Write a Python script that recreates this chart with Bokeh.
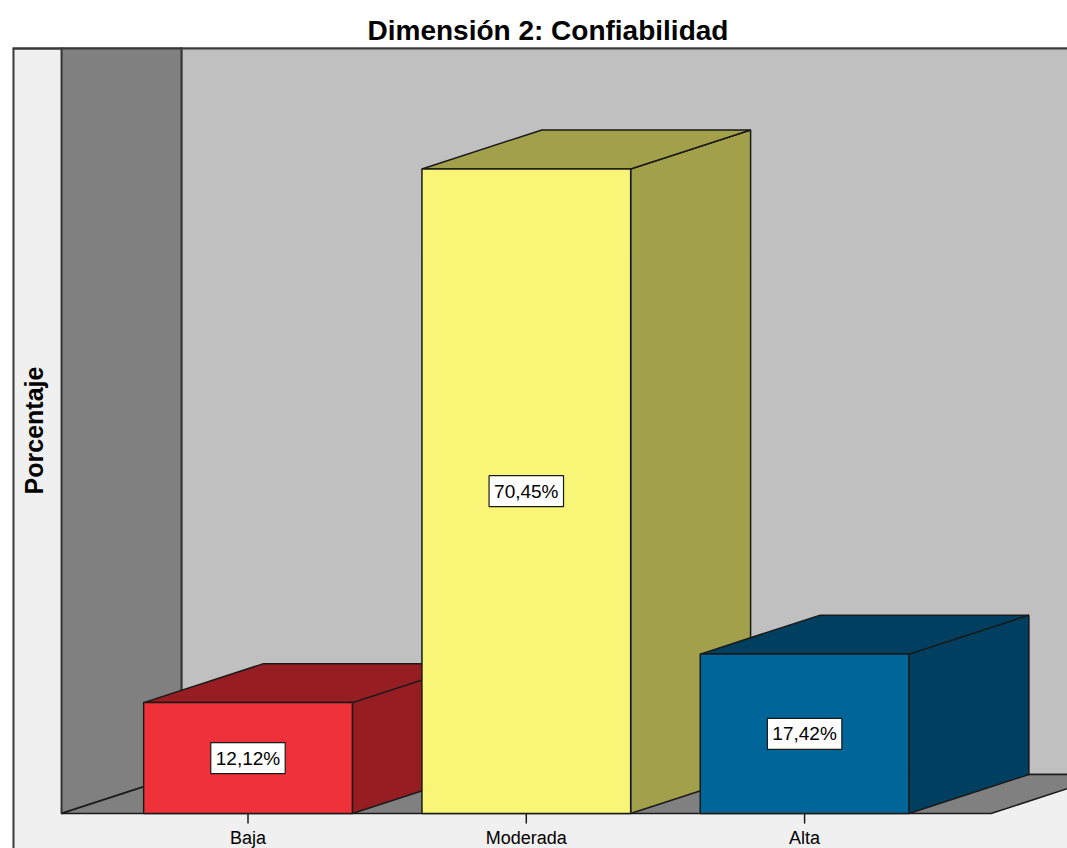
from math import pi

from bokeh.core.properties import value
from bokeh.embed import file_html
from bokeh.models import ColumnDataSource, Range1d
from bokeh.plotting import figure
from bokeh.resources import INLINE

# Data
categories = ["Baja", "Moderada", "Alta"]
percentages = [12.12, 70.45, 17.42]
front_colors = ["#EF3139", "#F9F576", "#00669A"]
shade_colors = ["#961E22", "#A3A04B", "#003F5F"]

title_text = "Dimensión 2: Confiabilidad"
y_label = "Porcentaje"

# 3-D look: depth offset (x in category units, y in percent) and bar half width
DX = 0.431
DY = 4.26
HALF = 0.375
X_LEFT = 0.33          # left end of the floor / left wall
X_RIGHT = 3.67         # right end of the floor front edge
WALL_TOP = 200.0       # walls run past the top of the frame

X_START, X_END = 0.1538, 3.9447
Y_START, Y_END = -3.825, 83.72

FONT = "Liberation Sans"

p = figure(
    width=1067,
    height=848,
    output_backend="svg",
    toolbar_location=None,
    x_range=Range1d(X_START, X_END),
    y_range=Range1d(Y_START, Y_END),
    min_border_left=12,
    min_border_right=0,
    min_border_top=47,
    min_border_bottom=0,
    title=title_text,
)
p.axis.visible = False
p.grid.visible = False
p.background_fill_color = "#F0F0F0"
p.border_fill_color = "white"
p.outline_line_color = None

p.title.text_font = FONT
p.title.text_font_size = "28px"
p.title.text_font_style = "bold"
p.title.align = "left"
p.title.text_color = "black"
p.title.standoff = 3
p.title.offset = 355

edge = dict(line_color="#1A1A1A", line_width=1.5)

# Panel border: only the left and top edges fall inside the page
p.line([X_START, X_START, X_END], [Y_START, Y_END, Y_END],
       line_color="#3A3A3A", line_width=4)

# Back wall
p.patch([X_LEFT + DX, 10.0, 10.0, X_LEFT + DX],
        [DY, DY, WALL_TOP, WALL_TOP],
        fill_color="#C0C0C0", **edge)
# Left wall
p.patch([X_LEFT, X_LEFT + DX, X_LEFT + DX, X_LEFT],
        [0, DY, WALL_TOP, WALL_TOP],
        fill_color="#808080", line_color="#333333", line_width=2)
# Floor
p.patch([X_LEFT, X_RIGHT, X_RIGHT + DX, X_LEFT + DX],
        [0, 0, DY, DY],
        fill_color="#808080", **edge)

# Bars, drawn left to right so each one overlaps the side of its neighbour
xs_pos = [i + 1 for i in range(len(categories))]
for xc, v, fc, sc in zip(xs_pos, percentages, front_colors, shade_colors):
    x0, x1 = xc - HALF, xc + HALF
    # side face
    p.patch([x1, x1 + DX, x1 + DX, x1], [0, DY, v + DY, v], fill_color=sc, **edge)
    # top face
    p.patch([x0, x1, x1 + DX, x0 + DX], [v, v, v + DY, v + DY], fill_color=sc, **edge)
    # front face
    p.quad(left=[x0], right=[x1], bottom=[0], top=[v], fill_color=fc, **edge)

# Top edge of the panel drawn again over the walls
p.line([X_START, X_END], [Y_END, Y_END], line_color="#3A3A3A", line_width=4)

# Value labels in the middle of each front face
labels = ColumnDataSource(dict(
    x=xs_pos,
    y=[v / 2 for v in percentages],
    text=[f"{v:.2f}".replace(".", ",") + "%" for v in percentages],
))
p.text(x="x", y="y", text="text", source=labels,
       text_font=value(FONT), text_font_size="19px", text_color="black",
       text_align="center", text_baseline="middle",
       background_fill_color="white", border_line_color="#1A1A1A",
       border_line_width=1.2, padding=5)

# Category ticks and names under the floor
p.segment(x0=xs_pos, y0=[0] * 3, x1=xs_pos, y1=[-1.1] * 3,
          line_color="#1A1A1A", line_width=1.5)
cat_src = ColumnDataSource(dict(x=xs_pos, y=[-1.53] * 3, text=categories))
p.text(x="x", y="y", text="text", source=cat_src,
       text_font=value(FONT), text_font_size="18px", text_color="black",
       text_align="center", text_baseline="top")

# Axis title on the left strip
p.text(x=[0.2293], y=[41.86], text=[y_label], angle=pi / 2,
       text_font=value(FONT), text_font_size="25px", text_font_style="bold",
       text_color="black", text_align="center", text_baseline="middle")

open("out.html", "w").write(file_html(p, INLINE))
